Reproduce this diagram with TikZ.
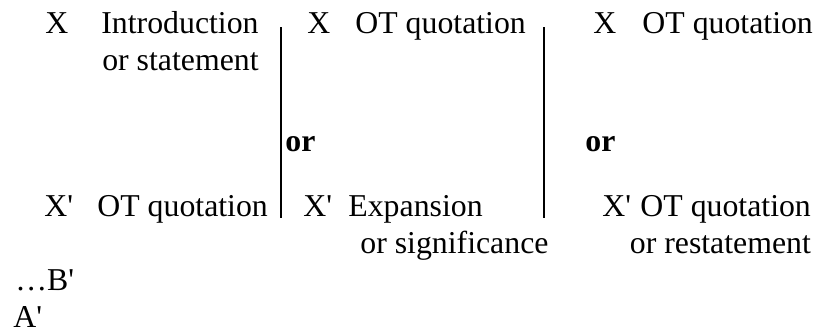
\documentclass[tikz,border=0pt]{standalone}
\usepackage{fontspec}
\newfontfamily\plainserif{Liberation Serif}
\usetikzlibrary{positioning}

\begin{document}
\begin{tikzpicture}[
          x=0.5pt, y=-0.5pt,
          lbl/.style={inner sep=0pt,anchor=base west,
                      font=\plainserif\fontsize{15.9}{18.5}\selectfont},
          orlbl/.style={lbl,font=\plainserif\fontsize{15.9}{18.5}\selectfont\bfseries},
          divider/.style={line width=1pt,black}]
        \useasboundingbox (0,0) rectangle (822,334);
        \node[lbl] (xa) at (45,33) {X};
        \node[lbl] (intro) at (101,33) {Introduction};
        \node[lbl,anchor=base east] (stmt) at (intro.base east |- 0,70) {or statement};
        \node[lbl] (xb) at (307,33) {X};
        \node[lbl] (otb) at (355,33) {OT quotation};
        \node[lbl] (xc) at (593,33) {X};
        \node[lbl] (otc) at (642,33) {OT quotation};
        \node[orlbl] (orb) at (285,151) {or};
        \node[orlbl] (orc) at (585,151) {or};
        \node[lbl] (xap) at (44,216) {X'};
        \node[lbl] (ota) at (97,216) {OT quotation};
        \node[lbl] (xbp) at (303,216) {X'};
        \node[lbl] (expn) at (348,216) {Expansion};
        \node[lbl] (signif) at (360,253) {or significance};
        \node[lbl] (xcp) at (602,216) {X'};
        \node[lbl] (otcp) at (640,216) {OT quotation};
        \node[lbl,anchor=base east] (restate) at (otcp.base east |- 0,253) {or restatement};
        \node[lbl] (bend) at (15,290) {…B'};
        \node[lbl] (aend) at (13,327) {A'};
        \coordinate (divtopa) at (281,27);
        \coordinate (divbota) at (281,218);
        \coordinate (divtopb) at (544,27);
        \coordinate (divbotb) at (544,218);
        \draw[divider] (divtopa) -- (divbota);
        \draw[divider] (divtopb) -- (divbotb);
      \end{tikzpicture}
\end{document}
